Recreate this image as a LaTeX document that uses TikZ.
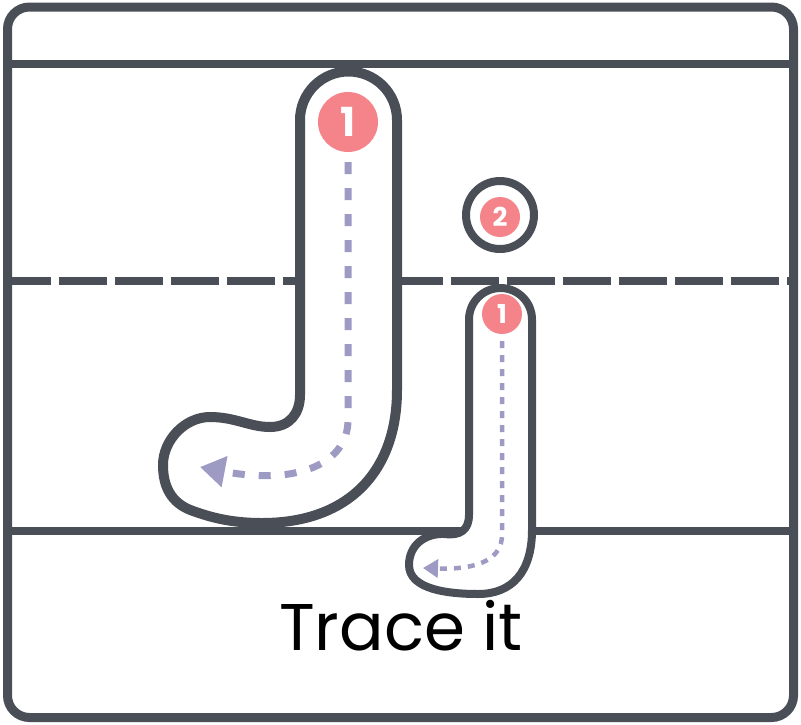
\documentclass[tikz,border=0pt]{standalone}
\usepackage{fontspec}
\setmainfont{Poppins}
\usetikzlibrary{arrows.meta}
\definecolor{ink}{HTML}{4A4F57}
\definecolor{dotpink}{HTML}{F5838A}
\definecolor{trace}{HTML}{9D9BC4}
\tikzset{
  frameline/.style={draw=ink, line width=8},
  letterline/.style={draw=ink, fill=white, line width=10, line join=round},
  smallletter/.style={draw=ink, fill=white, line width=8, line join=round},
  bigdot/.style={circle, fill=dotpink, minimum size=60, inner sep=0, text=white, font=\fontsize{40}{40}\selectfont\bfseries},
  smalldot/.style={circle, fill=dotpink, minimum size=40, inner sep=0, text=white, font=\fontsize{26}{26}\selectfont\bfseries},
  bigtrace/.style={draw=trace, line width=7, dash pattern=on 12 off 14, -{Triangle[length=25, width=30]}},
  smalltrace/.style={draw=trace, line width=4.5, dash pattern=on 7 off 7, -{Triangle[length=15, width=18]}},
}
\begin{document}
\begin{tikzpicture}[x=1pt, y=-1pt]
\useasboundingbox (0,0) rectangle (801,724);
% ruling lines
\draw[frameline] (7.5,64) -- (793.5,64);
\draw[frameline, dash pattern=on 48 off 8, dash phase=4.5] (7.5,281) -- (793.5,281);
\draw[frameline] (7.5,531) -- (793.5,531);
% outer frame
\draw[draw=ink, line width=9, rounded corners=22] (7.5,7) rectangle (793.5,717.5);
% big J outline
\path[letterline] (300,120) .. controls (300,93.2) and (321.7,71.5) .. (348.5,71.5)
  .. controls (375.3,71.5) and (397,93.2) .. (397,120) -- (397,390)
  .. controls (397,470) and (350,523) .. (262,523)
  .. controls (230,523) and (210,517) .. (193,511)
  .. controls (170,503) and (163,485) .. (163,465)
  .. controls (163,440) and (185,417) .. (210,417)
  .. controls (235,417) and (250,427) .. (270,427)
  .. controls (290,427) and (300,413) .. (300,395) -- cycle;
% small j outline
\path[smallletter] (469,319.5) .. controls (469,302.1) and (483.1,288) .. (500.5,288)
  .. controls (517.9,288) and (532,302.1) .. (532,319.5) -- (532,530)
  .. controls (532,572) and (512,594) .. (478,594)
  .. controls (450,594) and (409,590) .. (409,565)
  .. controls (409,545) and (425,533) .. (445,534)
  .. controls (460,536) and (469,530) .. (469,515) -- cycle;
% dot of j
\draw[draw=ink, line width=8] (500,215) circle[radius=34];
% start markers
\node[bigdot] (b1) at (348,122) {1};
\node[smalldot] (s2) at (500,217) {2};
\node[smalldot] (s1) at (502,314) {1};
% trace arrows
\coordinate (bEnd) at (200,467);
\coordinate (sEnd) at (423,568);
\draw[bigtrace] ([yshift=-10]b1.south) -- (348,420)
  .. controls (348,462) and (300,486) .. (bEnd);
\draw[smalltrace] ([yshift=-7]s1.south) -- (502,535)
  .. controls (502,558) and (480,570) .. (sEnd);
% caption
\node[anchor=base, inner sep=0, font=\fontsize{66}{66}\selectfont] (cap) at (401,650) {Trace it};
\end{tikzpicture}
\end{document}
